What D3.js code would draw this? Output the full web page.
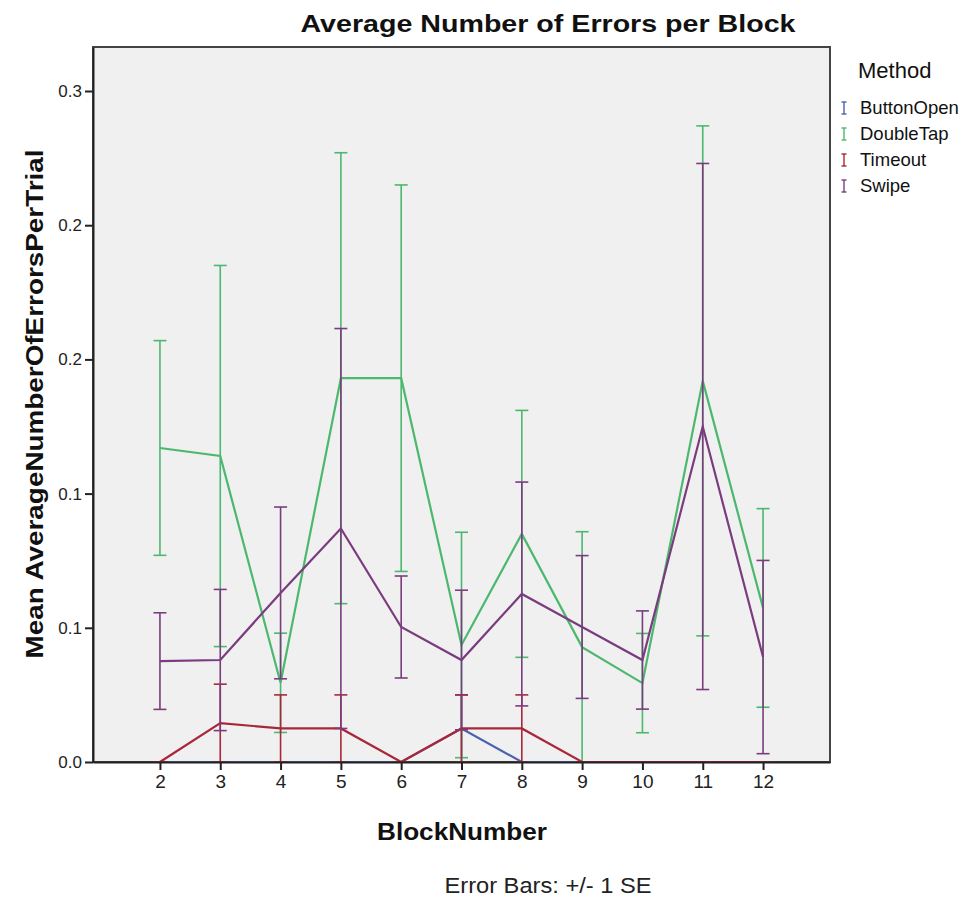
<!DOCTYPE html>
<html>
<head>
<meta charset="utf-8">
<script src="https://cdn.jsdelivr.net/npm/d3@7"></script>
<style>
  body { margin: 0; background: #fff; }
  text { font-family: "Liberation Sans", Arial, sans-serif; }
</style>
</head>
<body>
<div id="chart"></div>
<script>
const W = 972;
const H = 904;
var plot = {left: 93, right: 830, top: 47, bottom: 762};

// data
let blocks = [2, 3, 4, 5, 6, 7, 8, 9, 10, 11, 12];
let methods = ["ButtonOpen", "DoubleTap", "Timeout", "Swipe"];

let buttonOpenMean = [0, 0, 0, 0, 0, 0.0125, 0, 0, 0, 0, 0];
let buttonOpenSE   = [0, 0, 0, 0, 0, 0.0125, 0, 0, 0, 0, 0];

let doubleTapMean = [0.117, 0.114, 0.0295, 0.143, 0.143, 0.0436, 0.085, 0.0428, 0.0294, 0.142, 0.0574];
let doubleTapSE   = [0.040, 0.071, 0.0185, 0.084, 0.072, 0.042, 0.046, 0.043, 0.0185, 0.095, 0.037];

let timeoutMean = [0, 0.0145, 0.0125, 0.0125, 0, 0.0125, 0.0125, 0, 0, 0, 0];
let timeoutSE   = [0, 0.0145, 0.0125, 0.0125, 0, 0.0125, 0.0125, 0, 0, 0, 0];

let swipeMean = [0.0376, 0.038, 0.063, 0.087, 0.0503, 0.038, 0.0626, 0.0503, 0.038, 0.125, 0.0391];
let swipeSE   = [0.018, 0.0263, 0.032, 0.0745, 0.019, 0.026, 0.0417, 0.0266, 0.0183, 0.098, 0.036];

let yTickValues = [0, 0.05, 0.10, 0.15, 0.20, 0.25];
let yTickLabels = ["0.0", "0.1", "0.1", "0.2", "0.2", "0.3"];

let colors = ["#4a62b0", "#4cb86e", "#a8283a", "#7a3c7e"];

let series = [
	{name: methods[0], mean: buttonOpenMean, se: buttonOpenSE, color: colors[0]},
	{name: methods[1], mean: doubleTapMean, se: doubleTapSE, color: colors[1]},
	{name: methods[2], mean: timeoutMean, se: timeoutSE, color: colors[2]},
	{name: methods[3], mean: swipeMean, se: swipeSE, color: colors[3]}
];

var svg = d3.select("#chart")
	.append("svg")
		.attr("width", W)
		.attr("height", H);

var x = d3.scaleLinear()
	.domain([0.89, 13.11])
	.range([plot.left, plot.right]);

var y = d3.scaleLinear()
	.domain([0, (plot.bottom - plot.top) / 2684])
	.range([plot.bottom, plot.top]);

// plot background + frame
svg.append("rect")
	.attr("x", plot.left)
	.attr("y", plot.top)
	.attr("width", plot.right - plot.left)
	.attr("height", plot.bottom - plot.top)
	.attr("fill", "#f0f0f0")
	.attr("stroke", "#444")
	.attr("stroke-width", 2);

// series lines + error bars
var line = d3.line()
	.x((d) => x(d.block))
	.y((d) => y(d.mean));

var capW = 6.5;

series.forEach((s) => {
	let pts = blocks.map((b, i) => ({block: b, mean: s.mean[i], se: s.se[i]}));
	let g = svg.append("g").attr("class", "series");

	g.append("path")
		.datum(pts)
		.attr("d", line)
		.attr("fill", "none")
		.attr("stroke", s.color)
		.attr("stroke-width", 2.2);

	g.selectAll("line.bar")
		.data(pts)
		.enter()
		.append("line")
			.attr("x1", (d) => x(d.block))
			.attr("x2", (d) => x(d.block))
			.attr("y1", (d) => y(d.mean + d.se))
			.attr("y2", (d) => y(Math.max(0, d.mean - d.se)))
			.attr("stroke", s.color)
			.attr("stroke-width", 1.6);

	[1, -1].forEach((sign) => {
		g.selectAll("line.cap")
			.data(pts)
			.enter()
			.append("line")
				.attr("x1", (d) => x(d.block) - capW)
				.attr("x2", (d) => x(d.block) + capW)
				.attr("y1", (d) => y(Math.max(0, d.mean + sign * d.se)))
				.attr("y2", (d) => y(Math.max(0, d.mean + sign * d.se)))
				.attr("stroke", s.color)
				.attr("stroke-width", 1.6);
	});
});

// axes
var yAxis = d3.axisLeft(y)
	.tickValues(yTickValues)
	.tickFormat((d, i) => yTickLabels[i])
	.tickSize(8)
	.tickSizeOuter(0)
	.tickPadding(3);

var gy = svg.append("g")
	.attr("transform", "translate(" + plot.left + ",0)")
	.call(yAxis);
gy.select(".domain").attr("stroke", "#222").attr("stroke-width", 2);
gy.selectAll(".tick line").attr("stroke", "#222").attr("stroke-width", 2);
gy.selectAll(".tick text")
	.attr("font-size", "17px")
	.attr("fill", "#222")
	.attr("font-family", "Liberation Sans, Arial, sans-serif");

var xAxis = d3.axisBottom(x)
	.tickValues(blocks)
	.tickFormat(d3.format("d"))
	.tickSize(8)
	.tickSizeOuter(0)
	.tickPadding(5);

var gx = svg.append("g")
	.attr("transform", "translate(0," + plot.bottom + ")")
	.call(xAxis);
gx.select(".domain").attr("stroke", "#222").attr("stroke-width", 2.2);
gx.selectAll(".tick line").attr("stroke", "#222").attr("stroke-width", 2);
gx.selectAll(".tick text")
	.attr("font-size", "19px")
	.attr("fill", "#222")
	.attr("font-family", "Liberation Sans Narrow, Liberation Sans, Arial, sans-serif");

// titles
svg.append("text")
	.attr("x", 548)
	.attr("y", 32)
	.attr("text-anchor", "middle")
	.attr("font-size", "24px")
	.attr("font-weight", "bold")
	.attr("fill", "#111")
	.attr("textLength", 495)
	.attr("lengthAdjust", "spacingAndGlyphs")
	.text("Average Number of Errors per Block");

svg.append("text")
	.attr("x", 462)
	.attr("y", 840)
	.attr("text-anchor", "middle")
	.attr("font-size", "23px")
	.attr("font-weight", "bold")
	.attr("fill", "#111")
	.attr("textLength", 170)
	.attr("lengthAdjust", "spacingAndGlyphs")
	.text("BlockNumber");

svg.append("text")
	.attr("transform", "translate(43,404) rotate(-90)")
	.attr("text-anchor", "middle")
	.attr("font-size", "23px")
	.attr("font-weight", "bold")
	.attr("fill", "#111")
	.attr("textLength", 509)
	.attr("lengthAdjust", "spacingAndGlyphs")
	.text("Mean AverageNumberOfErrorsPerTrial");

svg.append("text")
	.attr("x", 548)
	.attr("y", 893)
	.attr("text-anchor", "middle")
	.attr("font-size", "22px")
	.attr("fill", "#222")
	.attr("textLength", 207)
	.attr("lengthAdjust", "spacingAndGlyphs")
	.text("Error Bars: +/- 1 SE");

// legend
var legend = svg.append("g")
	.attr("class", "legend")
	.attr("transform", "translate(844,0)");

legend.append("text")
	.attr("x", 14)
	.attr("y", 78)
	.attr("font-size", "22px")
	.attr("font-family", "Lato, sans-serif")
	.attr("fill", "#111")
	.text("Method");

var items = legend.selectAll("g.item")
	.data(series)
	.enter()
	.append("g")
		.attr("class", "item")
		.attr("transform", (d, i) => "translate(0," + (108 + i * 26) + ")");

items.append("line")
	.attr("x1", 0).attr("x2", 0)
	.attr("y1", -6).attr("y2", 6)
	.attr("stroke", (d) => d.color)
	.attr("stroke-width", 1.4);
items.append("line")
	.attr("x1", -2.5).attr("x2", 2.5)
	.attr("y1", -6).attr("y2", -6)
	.attr("stroke", (d) => d.color)
	.attr("stroke-width", 1.4);
items.append("line")
	.attr("x1", -2.5).attr("x2", 2.5)
	.attr("y1", 6).attr("y2", 6)
	.attr("stroke", (d) => d.color)
	.attr("stroke-width", 1.4);

items.append("text")
	.attr("x", 16)
	.attr("y", 6)
	.attr("font-size", "18.5px")
	.attr("font-family", "Lato, sans-serif")
	.attr("fill", "#111")
	.text((d) => d.name);
</script>
</body>
</html>
